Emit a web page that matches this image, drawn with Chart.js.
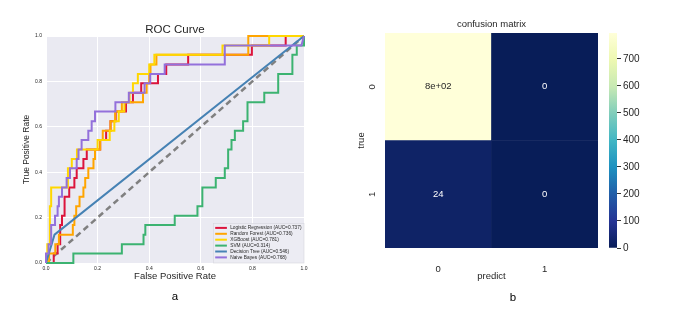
<!DOCTYPE html>
<html>
<head>
<meta charset="utf-8">
<script src="https://cdn.jsdelivr.net/npm/chart.js@4.4.1/dist/chart.umd.min.js"></script>
<style>
  html, body { margin: 0; padding: 0; background: #fff; }
  #wrap { position: relative; width: 685px; height: 322px; overflow: hidden; }
  canvas { position: absolute; top: 0; }
</style>
</head>
<body>
<div id="wrap">
  <canvas id="roc" width="340" height="322" style="left:0"></canvas>
  <canvas id="cm" width="270" height="322" style="left:340px"></canvas>
  <canvas id="cbar" width="85" height="322" style="left:600px"></canvas>
</div>
<script>
// --- data: ROC curves (fpr / tpr vertices) ---
const models = ['Logistic Regression', 'Random Forest', 'XGBoost', 'SVM', 'Decision Tree', 'Naive Bayes'];
const aucs = [0.737, 0.736, 0.781, 0.314, 0.546, 0.768];

const fprLR = [0,0.03,0.03,0.045,0.045,0.055,0.055,0.062,0.062,0.072,0.072,0.09,0.09,0.11,0.11,0.119,0.119,0.145,0.145,0.158,0.158,0.21,0.21,0.233,0.233,0.25,0.25,0.27,0.27,0.31,0.31,0.337,0.337,0.369,0.369,0.434,0.434,0.466,0.466,0.551,0.551,0.798,0.798,0.929,0.929,1];
const tprLR = [0,0,0.042,0.042,0.083,0.083,0.167,0.167,0.208,0.208,0.292,0.292,0.333,0.333,0.375,0.375,0.417,0.417,0.458,0.458,0.5,0.5,0.542,0.542,0.583,0.583,0.625,0.625,0.667,0.667,0.708,0.708,0.75,0.75,0.792,0.792,0.833,0.833,0.875,0.875,0.917,0.917,0.958,0.958,1,1];

const fprRF = [0,0.012,0.012,0.036,0.036,0.05,0.05,0.104,0.104,0.11,0.11,0.117,0.117,0.13,0.13,0.145,0.145,0.152,0.152,0.164,0.164,0.184,0.184,0.19,0.19,0.21,0.21,0.22,0.22,0.25,0.25,0.268,0.268,0.294,0.294,0.376,0.376,0.39,0.39,0.4,0.4,0.405,0.405,0.428,0.428,0.784,0.784,1];
const tprRF = [0,0,0.042,0.042,0.083,0.083,0.125,0.125,0.167,0.167,0.208,0.208,0.25,0.25,0.292,0.292,0.333,0.333,0.375,0.375,0.417,0.417,0.458,0.458,0.5,0.5,0.542,0.542,0.583,0.583,0.625,0.625,0.667,0.667,0.708,0.708,0.75,0.75,0.792,0.792,0.833,0.833,0.875,0.875,0.917,0.917,1,1];

const fprXGB = [0,0.005,0.005,0.015,0.015,0.02,0.02,0.085,0.085,0.1,0.1,0.12,0.12,0.2,0.2,0.247,0.247,0.265,0.265,0.282,0.282,0.304,0.304,0.324,0.324,0.337,0.337,0.356,0.356,0.4,0.4,0.42,0.42,0.684,0.684,0.865,0.865,1];
const tprXGB = [0,0,0.083,0.083,0.25,0.25,0.333,0.333,0.417,0.417,0.458,0.458,0.5,0.5,0.542,0.542,0.583,0.583,0.625,0.625,0.667,0.667,0.708,0.708,0.75,0.75,0.792,0.792,0.833,0.833,0.875,0.875,0.917,0.917,0.958,0.958,1,1];

const fprSVM = [0,0.106,0.106,0.294,0.294,0.378,0.378,0.385,0.385,0.499,0.499,0.587,0.587,0.606,0.606,0.658,0.658,0.693,0.693,0.706,0.706,0.719,0.719,0.732,0.732,0.764,0.764,0.781,0.781,0.846,0.846,0.9,0.9,0.955,0.955,0.972,0.972,1,1];
const tprSVM = [0,0,0.042,0.042,0.083,0.083,0.125,0.125,0.167,0.167,0.208,0.208,0.25,0.25,0.333,0.333,0.375,0.375,0.417,0.417,0.5,0.5,0.542,0.542,0.583,0.583,0.625,0.625,0.708,0.708,0.75,0.75,0.833,0.833,0.917,0.917,0.958,0.958,1];

const fprDT = [0, 0.033, 1];
const tprDT = [0, 0.125, 1];

const fprNB = [0,0,0.01,0.01,0.02,0.02,0.035,0.035,0.045,0.045,0.05,0.05,0.062,0.062,0.08,0.08,0.093,0.093,0.119,0.119,0.126,0.126,0.138,0.138,0.164,0.164,0.177,0.177,0.19,0.19,0.269,0.269,0.321,0.321,0.382,0.382,0.404,0.404,0.46,0.46,0.693,0.693,0.99,1];
const tprNB = [0,0.042,0.042,0.083,0.083,0.167,0.167,0.208,0.208,0.25,0.25,0.292,0.292,0.333,0.333,0.375,0.375,0.417,0.417,0.458,0.458,0.5,0.5,0.542,0.542,0.583,0.583,0.625,0.625,0.667,0.667,0.708,0.708,0.75,0.75,0.792,0.792,0.833,0.833,0.875,0.875,0.958,0.958,1];

const chanceX = [0, 1];
const chanceY = [0, 1];

// --- data: confusion matrix ---
const predLabels = ['0', '1'];
const trueLabels = ['0', '1'];
const cmTrue0 = [796, 0];
const cmTrue1 = [24, 0];
const cbarTicks = [0, 100, 200, 300, 400, 500, 600, 700];

// styles
const rocColors = ['crimson', 'orange', 'gold', 'mediumseagreen', 'steelblue', 'mediumpurple'];
const ylgnbu = ['#081d58','#253494','#225ea8','#1d91c0','#41b6c4','#7fcdbb','#c7e9b4','#edf8b1','#ffffd9'];
const FONT = '"Liberation Sans", Arial, sans-serif';
const TXT = '#262626';
Chart.defaults.font.family = FONT;

function hex2rgb(h) {
  return [1, 3, 5].map(i => parseInt(h.slice(i, i + 2), 16));
}
function cmap(t) {
  t = Math.max(0, Math.min(1, t));
  const p = t * (ylgnbu.length - 1);
  const i = Math.min(Math.floor(p), ylgnbu.length - 2);
  const f = p - i;
  const a = hex2rgb(ylgnbu[i]), b = hex2rgb(ylgnbu[i + 1]);
  const c = a.map((v, k) => Math.round(v + (b[k] - v) * f));
  return `rgb(${c[0]},${c[1]},${c[2]})`;
}
// seaborn-like ".2g" format
function fmt2g(v) {
  if (v === 0) return '0';
  const e = Math.floor(Math.log10(Math.abs(v)));
  if (e >= 2) {
    let m = (v / Math.pow(10, e)).toPrecision(2).replace(/\.?0+$/, '');
    return m + 'e+' + String(e).padStart(2, '0');
  }
  return String(Number(v.toPrecision(2)));
}

// plugin: text captions drawn on canvas
const captions = {
  id: 'captions',
  afterDraw(chart, args, opts) {
    const ctx = chart.ctx;
    ctx.save();
    (opts.items || []).forEach(it => {
      ctx.font = `${it.size}px ${FONT}`;
      ctx.fillStyle = it.color || TXT;
      ctx.textAlign = 'center';
      ctx.textBaseline = 'middle';
      ctx.translate(it.x, it.y);
      if (it.rot) ctx.rotate(it.rot);
      ctx.fillText(it.text, 0, 0);
      ctx.setTransform(1, 0, 0, 1, 0, 0);
    });
    ctx.restore();
  }
};

// plugin: plot background
const plotBg = {
  id: 'plotBg',
  beforeDraw(chart, args, opts) {
    const {ctx, chartArea: a} = chart;
    ctx.save();
    ctx.fillStyle = opts.color;
    ctx.fillRect(a.left, a.top, a.right - a.left, a.bottom - a.top);
    ctx.restore();
  }
};

// plugin: ROC legend in lower right corner
const rocLegend = {
  id: 'rocLegend',
  afterDatasetsDraw(chart) {
    const {ctx, chartArea: a} = chart;
    const sets = chart.data.datasets.filter(d => !d.noLegend);
    const w = 90.5, h = 39.5, rowH = 5.9;
    const x0 = a.right - w, y0 = a.bottom - h;
    ctx.save();
    ctx.fillStyle = 'rgba(236,236,243,0.9)';
    ctx.strokeStyle = '#d6d6de';
    ctx.lineWidth = 0.6;
    ctx.fillRect(x0, y0, w, h);
    ctx.strokeRect(x0, y0, w, h);
    ctx.font = `4.8px ${FONT}`;
    ctx.textBaseline = 'middle';
    sets.forEach((d, i) => {
      const cy = y0 + 4.4 + i * rowH;
      ctx.strokeStyle = d.borderColor;
      ctx.lineWidth = 2;
      ctx.beginPath();
      ctx.moveTo(x0 + 1.7, cy);
      ctx.lineTo(x0 + 13.4, cy);
      ctx.stroke();
      ctx.fillStyle = TXT;
      ctx.fillText(d.label, x0 + 16.7, cy);
    });
    ctx.restore();
  }
};

// ---------- ROC chart ----------
const curves = [[fprLR, tprLR], [fprRF, tprRF], [fprXGB, tprXGB], [fprSVM, tprSVM], [fprDT, tprDT], [fprNB, tprNB]];
const rocSets = models.map((m, i) => ({
  label: `${m} (AUC=${aucs[i].toFixed(3)})`,
  data: curves[i][0].map((x, j) => ({x: x, y: curves[i][1][j]})),
  borderColor: rocColors[i],
  borderWidth: 2,
  showLine: true,
  pointRadius: 0,
  tension: 0,
  clip: false,
  order: models.length - i
}));
rocSets.push({
  label: 'chance',
  noLegend: true,
  data: chanceX.map((x, j) => ({x: x, y: chanceY[j]})),
  borderColor: 'gray',
  borderDash: [6, 4],
  borderWidth: 2.5,
  showLine: true,
  pointRadius: 0,
  clip: false,
  order: 20
});

const tickFont = {family: FONT, size: 5};
new Chart(document.getElementById('roc'), {
  type: 'scatter',
  data: {datasets: rocSets},
  options: {
    responsive: false,
    animation: false,
    events: [],
    layout: {padding: {left: 22, top: 36, right: 36, bottom: 40}},
    plugins: {
      legend: {display: false},
      tooltip: {enabled: false},
      plotBg: {color: '#eaeaf2'},
      captions: {items: [
        {text: 'ROC Curve', x: 175, y: 30, size: 11.5},
        {text: 'a', x: 175, y: 297, size: 11.5, color: '#000'}
      ]}
    },
    scales: {
      x: {
        type: 'linear', min: 0, max: 1,
        afterFit(s) { s.height = 19; },
        ticks: {stepSize: 0.2, padding: 3, color: TXT, font: tickFont, callback: v => v.toFixed(1)},
        grid: {color: '#ffffff', lineWidth: 1, drawTicks: false},
        border: {display: false},
        title: {display: true, text: 'False Positive Rate', color: TXT, font: {family: FONT, size: 9.5}, padding: 0}
      },
      y: {
        type: 'linear', min: 0, max: 1,
        afterFit(s) { s.width = 24; },
        ticks: {stepSize: 0.2, padding: 4, color: TXT, font: tickFont, callback: v => v.toFixed(1)},
        grid: {color: '#ffffff', lineWidth: 1, drawTicks: false},
        border: {display: false},
        title: {display: true, text: 'True Positive Rate', color: TXT, font: {family: FONT, size: 8.5}, padding: 0}
      }
    }
  },
  plugins: [plotBg, rocLegend, captions]
});

// ---------- confusion matrix ----------
const vmax = Math.max(...cmTrue0, ...cmTrue1);
const rows = [cmTrue1, cmTrue0]; // bottom row first (stacked)

const cellText = {
  id: 'cellText',
  afterDatasetsDraw(chart) {
    const ctx = chart.ctx;
    ctx.save();
    ctx.font = `9.5px ${FONT}`;
    ctx.textAlign = 'center';
    ctx.textBaseline = 'middle';
    chart.data.datasets.forEach((d, di) => {
      chart.getDatasetMeta(di).data.forEach((el, j) => {
        const v = d.counts[j];
        ctx.fillStyle = v / vmax > 0.5 ? TXT : '#ffffff';
        ctx.fillText(fmt2g(v), el.x, (el.y + el.base) / 2);
      });
    });
    // rotated y tick labels
    const ys = chart.scales.y;
    ctx.fillStyle = TXT;
    trueLabels.forEach((lab, i) => {
      ctx.save();
      ctx.translate(chart.chartArea.left - 13, ys.getPixelForValue(rows.length - i - 0.5));
      ctx.rotate(-Math.PI / 2);
      ctx.fillText(lab, 0, 0);
      ctx.restore();
    });
    ctx.restore();
  }
};

new Chart(document.getElementById('cm'), {
  type: 'bar',
  data: {
    labels: predLabels,
    datasets: rows.map((r, i) => ({
      label: 'true ' + trueLabels[rows.length - 1 - i],
      counts: r,
      data: r.map(() => 1),
      backgroundColor: r.map(v => cmap(v / vmax)),
      borderWidth: 0,
      barPercentage: 1,
      categoryPercentage: 1
    }))
  },
  options: {
    responsive: false,
    animation: false,
    events: [],
    layout: {padding: {left: 16, top: 33, right: 12, bottom: 40}},
    plugins: {
      legend: {display: false},
      tooltip: {enabled: false},
      captions: {items: [
        {text: 'confusion matrix', x: 151.5, y: 24, size: 9.5},
        {text: 'b', x: 173, y: 298, size: 11.5, color: '#000'}
      ]}
    },
    scales: {
      x: {
        stacked: true,
        afterFit(s) { s.height = 34; },
        grid: {display: false},
        border: {display: false},
        ticks: {padding: 8, color: TXT, font: {family: FONT, size: 9.5}},
        title: {display: true, text: 'predict', color: TXT, font: {family: FONT, size: 9.5}, padding: 0}
      },
      y: {
        stacked: true, min: 0, max: rows.length,
        afterFit(s) { s.width = 29; },
        grid: {display: false},
        border: {display: false},
        ticks: {display: false},
        title: {display: true, text: 'true', color: TXT, font: {family: FONT, size: 9.5}, padding: 0}
      }
    }
  },
  plugins: [cellText, captions]
});

// ---------- colorbar ----------
new Chart(document.getElementById('cbar'), {
  type: 'bar',
  data: {
    labels: [''],
    datasets: [{
      data: [vmax],
      borderWidth: 0,
      barPercentage: 1,
      categoryPercentage: 1,
      backgroundColor(c) {
        const {ctx, chartArea} = c.chart;
        if (!chartArea) return ylgnbu[0];
        const g = ctx.createLinearGradient(0, chartArea.bottom, 0, chartArea.top);
        ylgnbu.forEach((col, i) => g.addColorStop(i / (ylgnbu.length - 1), col));
        return g;
      }
    }]
  },
  options: {
    responsive: false,
    animation: false,
    events: [],
    layout: {padding: {left: 9, top: 33, right: 28, bottom: 74}},
    plugins: {legend: {display: false}, tooltip: {enabled: false}},
    scales: {
      x: {display: false},
      y: {
        position: 'right', min: 0, max: vmax,
        afterFit(s) { s.width = 40; },
        afterBuildTicks(s) { s.ticks = cbarTicks.map(v => ({value: v})); },
        ticks: {padding: 2, color: TXT, font: {family: FONT, size: 10}},
        grid: {drawOnChartArea: false, drawTicks: true, tickLength: 4, color: '#333'},
        border: {display: false}
      }
    }
  }
});
</script>
</body>
</html>
